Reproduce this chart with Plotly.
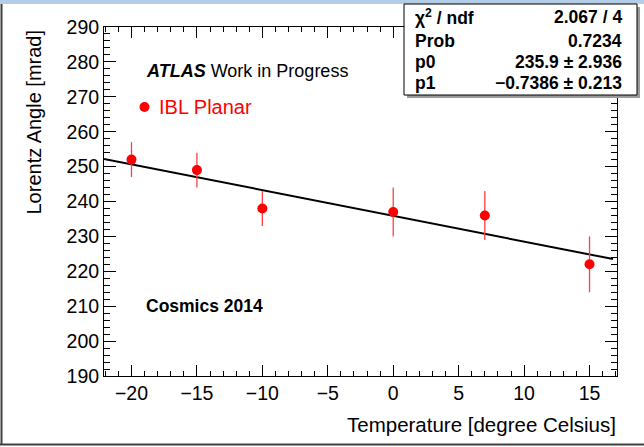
import plotly.graph_objects as go

# ---- data ----
temperature = [-20, -15, -10, 0, 7, 15]
lorentz_angle = [252, 249, 238, 237, 236, 222]
angle_err = [5, 5, 5, 7, 7, 8]

fit_x = [-22.1, 16.8]
fit_y = [252.2, 223.5]

stats_labels = ["χ<sup>2</sup> / ndf", "Prob", "p0", "p1"]
stats_values = ["2.067 / 4", "0.7234", "235.9 ± 2.936", "−0.7386 ± 0.213"]

x_range = [-22.1, 17.1]
y_range = [190, 290]

# ---- layout geometry (pixels) ----
W, H = 644, 447
L, R, T, B = 104, 617, 27, 376
PW, PH = R - L, B - T


def px(x):
    return (x - L) / PW


def py(y):
    return (B - y) / PH


FONT = "Liberation Sans, Arial, sans-serif"

fig = go.Figure()

fig.add_trace(go.Scatter(
    x=fit_x, y=fit_y, mode="lines",
    line=dict(color="black", width=2), showlegend=False, hoverinfo="skip"))

fig.add_trace(go.Scatter(
    x=temperature, y=lorentz_angle, mode="markers",
    marker=dict(color="red", size=10),
    error_y=dict(type="data", array=angle_err, color="#ff4040", thickness=1.3, width=0),
    showlegend=False))

axis_common = dict(
    showline=True, linecolor="black", linewidth=1, mirror="allticks",
    ticks="inside", tickcolor="black", showgrid=False, zeroline=False,
    tickfont=dict(family=FONT, size=19.5, color="black"),
)

fig.update_xaxes(range=x_range, dtick=5, tick0=0, ticklen=11,
                 minor=dict(ticks="inside", dtick=1, ticklen=5, tickcolor="black", showgrid=False),
                 **axis_common)
fig.update_yaxes(range=y_range, dtick=10, tick0=0, ticklen=12,
                 minor=dict(ticks="inside", dtick=2, ticklen=6, tickcolor="black", showgrid=False),
                 **axis_common)

shapes = []
annotations = []

# outer window borders
shapes.append(dict(type="rect", xref="paper", yref="paper", layer="above",
                   x0=px(0), x1=px(W), y0=py(0), y1=py(4),
                   fillcolor="#b3cde6", line=dict(width=0)))
shapes.append(dict(type="line", xref="paper", yref="paper",
                   x0=px(1.5), x1=px(1.5), y0=py(4), y1=py(445),
                   line=dict(color="#404040", width=2)))
shapes.append(dict(type="line", xref="paper", yref="paper",
                   x0=px(0), x1=px(W), y0=py(444.5), y1=py(444.5),
                   line=dict(color="#404040", width=2)))

# stats box with shadow
bx0, bx1, by0, by1 = 404, 637, 4, 95
shapes.append(dict(type="rect", xref="paper", yref="paper", layer="above",
                   x0=px(bx0 + 3), x1=px(bx1 + 3), y0=py(by0 + 3), y1=py(by1 + 3),
                   fillcolor="#9a9a9a", line=dict(width=0)))
shapes.append(dict(type="rect", xref="paper", yref="paper", layer="above",
                   x0=px(bx0), x1=px(bx1), y0=py(by0), y1=py(by1),
                   fillcolor="white", line=dict(color="black", width=1)))

row_y = [17.5, 40.5, 61.5, 82.5]
for lab, val, yy in zip(stats_labels, stats_values, row_y):
    annotations.append(dict(xref="paper", yref="paper", x=px(413), y=py(yy),
                            xanchor="left", yanchor="middle", showarrow=False,
                            text=f"<b>{lab}</b>",
                            font=dict(family=FONT, size=17.5, color="black")))
    annotations.append(dict(xref="paper", yref="paper", x=px(624), y=py(yy),
                            xanchor="right", yanchor="middle", showarrow=False,
                            text=f"<b>{val}</b>",
                            font=dict(family=FONT, size=17.5, color="black")))

# ATLAS label
annotations.append(dict(xref="paper", yref="paper", x=px(144), y=py(71),
                        xanchor="left", yanchor="middle", showarrow=False,
                        text="<b><i>ATLAS</i></b> Work in Progress",
                        font=dict(family=FONT, size=18, color="black")))
# legend entry
shapes.append(dict(type="circle", xref="paper", yref="paper",
                   xsizemode="pixel", ysizemode="pixel",
                   xanchor=px(144.5), yanchor=py(107),
                   x0=-5, x1=5, y0=-5, y1=5,
                   fillcolor="red", line=dict(width=0)))
annotations.append(dict(xref="paper", yref="paper", x=px(157), y=py(107),
                        xanchor="left", yanchor="middle", showarrow=False,
                        text="IBL Planar",
                        font=dict(family=FONT, size=20, color="red")))
# Cosmics label
annotations.append(dict(xref="paper", yref="paper", x=px(144), y=py(306),
                        xanchor="left", yanchor="middle", showarrow=False,
                        text="<b>Cosmics 2014</b>",
                        font=dict(family=FONT, size=17.5, color="black")))

# axis titles
annotations.append(dict(xref="paper", yref="paper", x=px(33), y=py(28),
                        xanchor="center", yanchor="top", showarrow=False, textangle=-90,
                        text="Lorentz Angle [mrad]",
                        font=dict(family=FONT, size=20, color="black")))
annotations.append(dict(xref="paper", yref="paper", x=px(618), y=py(424),
                        xanchor="right", yanchor="middle", showarrow=False,
                        text="Temperature [degree Celsius]",
                        font=dict(family=FONT, size=20.5, color="black")))

fig.update_layout(
    width=W, height=H,
    margin=dict(l=L, r=W - R, t=T, b=H - B, pad=0),
    paper_bgcolor="white", plot_bgcolor="white",
    shapes=shapes, annotations=annotations,
    showlegend=False,
    font=dict(family=FONT),
)

fig.write_html("out.html")
